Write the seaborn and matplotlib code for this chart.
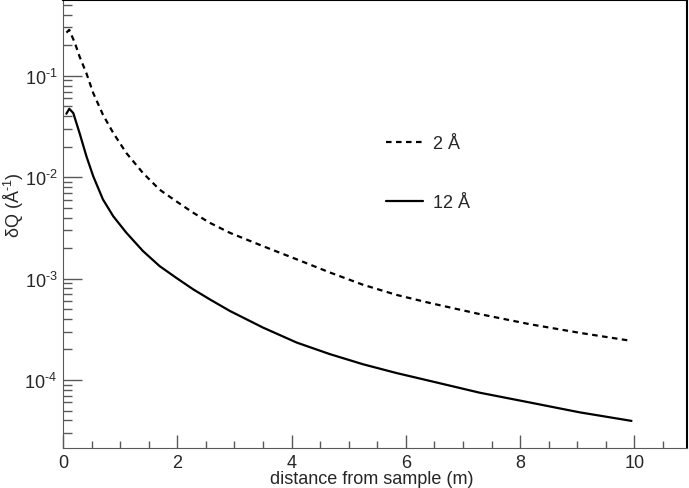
import numpy as np
import pandas as pd
import seaborn as sns
import matplotlib.pyplot as plt
from matplotlib.ticker import LogLocator, MultipleLocator, NullFormatter, FuncFormatter
from matplotlib.lines import Line2D

# distance from sample (m) and resolution
dist_2A = [0.06, 0.11, 0.21, 0.29, 0.41, 0.53, 0.70, 0.88, 1.11, 1.40, 1.69, 1.98,
           2.28, 2.57, 2.92, 3.50, 4.09, 4.67, 5.25, 5.84, 6.42, 7.29,
           8.17, 9.04, 9.95]
dq_2A = [0.267, 0.284, 0.210, 0.155, 0.106, 0.0675, 0.0413, 0.0273, 0.0173, 0.0110,
         0.00755, 0.0058, 0.00446, 0.00355, 0.00283, 0.00209, 0.00155,
         0.00115, 8.7e-4, 6.9e-4, 5.75e-4, 4.47e-4, 3.55e-4, 2.92e-4, 2.43e-4]

dist_12A = [0.06, 0.11, 0.18, 0.29, 0.41, 0.53, 0.70, 0.88, 1.11, 1.40, 1.69, 1.98,
            2.28, 2.57, 2.92, 3.50, 4.09, 4.67, 5.25, 5.84, 6.42, 7.29,
            8.17, 9.04, 9.95]
dq_12A = [0.0423, 0.0473, 0.043, 0.0273, 0.0161, 0.0102, 0.00603, 0.00412, 0.00283,
          0.00187, 0.00133, 0.00102, 7.83e-4, 6.24e-4, 4.8e-4, 3.29e-4,
          2.34e-4, 1.8e-4, 1.43e-4, 1.17e-4, 9.8e-5, 7.5e-5, 6.0e-5, 4.8e-5,
          3.95e-5]

sns.set_style('ticks')
plt.rcParams['font.family'] = ['Liberation Sans', 'DejaVu Sans']
plt.rcParams['mathtext.fontset'] = 'custom'
plt.rcParams['mathtext.rm'] = 'Liberation Sans'
plt.rcParams['mathtext.it'] = 'Liberation Sans'

fig = plt.figure(figsize=(6.89, 4.89), dpi=100)
ax = fig.add_axes([0.0914, 0.0812, 0.9056, 0.9168])

df2 = pd.DataFrame({'x': dist_2A, 'y': dq_2A})
df12 = pd.DataFrame({'x': dist_12A, 'y': dq_12A})
sns.lineplot(data=df2, x='x', y='y', ax=ax, color='black', lw=1.6,
             linestyle=(0, (2.5, 2)), sort=False)
sns.lineplot(data=df12, x='x', y='y', ax=ax, color='black', lw=1.6, sort=False)

ax.set_yscale('log')
ax.set_xlim(0, 10.92)
ax.set_ylim(2.12e-5, 0.56)


def pow_label(v, pos):
    e = int(round(np.log10(v)))
    return '10$^{\\text{-}%d}$' % (-e) if e < 0 else '10$^{%d}$' % e


ax.xaxis.set_major_locator(MultipleLocator(2))
ax.xaxis.set_minor_locator(MultipleLocator(0.5))
ax.yaxis.set_major_locator(LogLocator(base=10, numticks=10))
ax.yaxis.set_major_formatter(FuncFormatter(pow_label))
ax.yaxis.set_minor_locator(LogLocator(base=10, subs=np.arange(2, 10), numticks=20))
ax.yaxis.set_minor_formatter(NullFormatter())

ax.tick_params(axis='both', which='both', direction='in', color='0.35',
               labelsize=13, width=1.0)
ax.tick_params(axis='y', which='major', length=13.5, pad=4)
ax.tick_params(axis='y', which='minor', length=6.5)
ax.tick_params(axis='x', which='major', length=9.5, pad=4)
ax.tick_params(axis='x', which='minor', length=4.8)

for side in ['left', 'bottom']:
    ax.spines[side].set_color('0.35')
for side in ['top', 'right']:
    ax.spines[side].set_color('black')
    ax.spines[side].set_linewidth(1.5)

ax.set_xlabel('distance from sample (m)', fontsize=13)
ax.set_ylabel('δQ (Å$^{\\text{-}1}$)', fontsize=13)
ax.xaxis.set_label_coords(0.495, -0.067)
ax.yaxis.set_label_coords(-0.079, 0.545)
ax.yaxis.label.set_va('center')
ax.xaxis.label.set_va('center')

handles = [Line2D([], [], color='black', lw=1.6, linestyle=(0, (2.5, 2))),
           Line2D([], [], color='black', lw=1.6)]
ax.legend(handles, ['2 Å', '12 Å'], frameon=False, fontsize=13,
          loc='upper left', bbox_to_anchor=(0.491, 0.735), handlelength=2.05,
          handletextpad=0.55, labelspacing=2.35)

fig.savefig('out.png', dpi=100)
